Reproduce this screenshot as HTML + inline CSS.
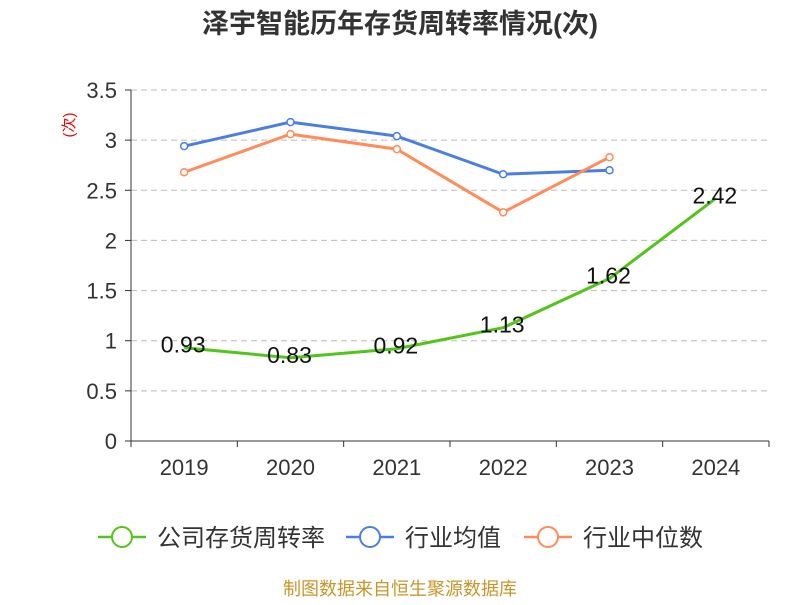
<!DOCTYPE html>
<html><head><meta charset="utf-8">
<style>
body{margin:0;background:#fff;font-family:"Liberation Sans","Noto Sans CJK SC",sans-serif;}
svg text{font-family:"Liberation Sans","Noto Sans CJK SC",sans-serif;}
</style></head>
<body>
<svg width="800" height="600" id="chart" xmlns="http://www.w3.org/2000/svg">
<text x="400" y="33" text-anchor="middle" font-size="27" font-weight="bold" fill="#333">泽宇智能历年存货周转率情况(次)</text>
<text transform="translate(74,125) rotate(-90)" text-anchor="middle" font-size="15" fill="#e00">(次)</text>
<g id="grid"></g><g id="axes"></g><g id="series"></g>
<g>
 <g><line x1="98" y1="537" x2="146" y2="537" stroke="#52c41a" stroke-width="2.5"/><circle cx="122" cy="537" r="10" fill="#fff" stroke="#52c41a" stroke-width="2"/><text x="157" y="546" font-size="24" fill="#333">公司存货周转率</text></g>
 <g><line x1="346" y1="537" x2="394" y2="537" stroke="#4a7fe0" stroke-width="2.5"/><circle cx="370" cy="537" r="10" fill="#fff" stroke="#4a7fe0" stroke-width="2"/><text x="405" y="546" font-size="24" fill="#333">行业均值</text></g>
 <g><line x1="524" y1="537" x2="572" y2="537" stroke="#ff8c5a" stroke-width="2.5"/><circle cx="548" cy="537" r="10" fill="#fff" stroke="#ff8c5a" stroke-width="2"/><text x="583" y="546" font-size="24" fill="#333">行业中位数</text></g>
</g>
<text x="400" y="595" text-anchor="middle" font-size="18" fill="#c8962a">制图数据来自恒生聚源数据库</text>
</svg>
<script>
const categories=["2019","2020","2021","2022","2023","2024"];
const companyValues=[0.93,0.83,0.92,1.13,1.62,2.42];
const industryAvg=[2.94,3.18,3.04,2.66,2.70];
const industryMedian=[2.68,3.06,2.91,2.28,2.83];
const yTicks=[0,0.5,1,1.5,2,2.5,3,3.5];
const NS="http://www.w3.org/2000/svg";
const x0=131,x1=769,y0=441,y1=90,yMax=3.5;
const bw=(x1-x0)/categories.length;
const xs=i=>x0+bw*(i+0.5);
const ys=v=>y0-(v/yMax)*(y0-y1);
function mk(tag,attrs,parent,txt){const e=document.createElementNS(NS,tag);for(const k in attrs)e.setAttribute(k,attrs[k]);if(txt!==undefined)e.textContent=txt;parent.appendChild(e);return e;}
const grid=document.getElementById('grid'),axes=document.getElementById('axes'),ser=document.getElementById('series');
yTicks.forEach(t=>{
 if(t>0){const g=mk('line',{x1:x0,x2:x1,y1:ys(t),y2:ys(t),stroke:'#bbb','stroke-dasharray':'6,4'},grid);
 
 }
 const tk=mk('line',{x1:x0-6,x2:x0,y1:ys(t),y2:ys(t),stroke:'#333'},axes);
 
 
 const l=mk('text',{x:x0-14,y:ys(t)+8,'text-anchor':'end','font-size':22,fill:'#333'},axes,String(t));
 
 
});
const ya=mk('line',{x1:x0,x2:x0,y1:y1,y2:y0,stroke:'#333'},axes);


const xa=mk('line',{x1:x0,x2:x1,y1:y0,y2:y0,stroke:'#333'},axes);


for(let i=0;i<=categories.length;i++){const t=mk('line',{x1:x0+bw*i,x2:x0+bw*i,y1:y0,y2:y0+6,stroke:'#333'},axes);
 
 }
categories.forEach((c,i)=>{const l=mk('text',{x:xs(i),y:y0+34,'text-anchor':'middle','font-size':22,fill:'#333'},axes,c);
 
 });
function line(vals,color,name,markers){
 const p=mk('polyline',{points:vals.map((v,i)=>xs(i)+','+ys(v)).join(' '),fill:'none',stroke:color,'stroke-width':3,'stroke-linejoin':'round'},ser);
 
 
 if(markers)vals.forEach((v,i)=>{const c=mk('circle',{cx:xs(i),cy:ys(v),r:3.5,fill:'#fff',stroke:color,'stroke-width':1.5},ser);
  
  });
}
line(industryAvg,'#4a7fe0','industry-avg',true);
line(industryMedian,'#ff8c5a','industry-median',true);
line(companyValues,'#52c41a','company',false);
companyValues.forEach((v,i)=>{const t=mk('text',{x:xs(i)-1,y:ys(v)+5,'text-anchor':'middle','font-size':23,fill:'#111'},ser,v.toFixed(2));
 
 });
</script>
</body></html>
